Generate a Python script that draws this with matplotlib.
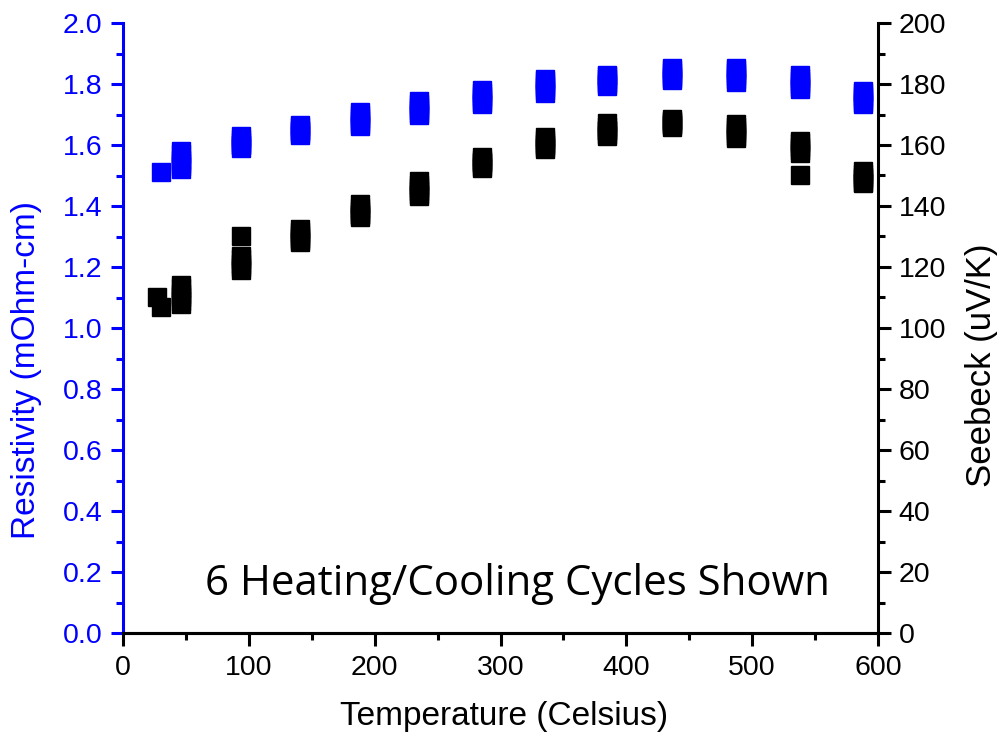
import numpy as np
import matplotlib
matplotlib.use("Agg")
import matplotlib.pyplot as plt

nan = np.nan
# Shared temperature grid (Celsius)
temperature = [27, 30, 46, 94, 141, 188, 235, 285, 335, 385, 436, 487, 538, 588]

# Resistivity (mOhm-cm), one list per heating/cooling cycle
resistivity_c1 = [nan, 1.51, 1.58, 1.63, 1.666, 1.708, 1.744, 1.78, 1.816, 1.83, 1.852, 1.852, 1.83, 1.777]
resistivity_c2 = [nan, nan, 1.57, 1.62, 1.66, 1.70, 1.735, 1.77, 1.81, 1.825, 1.845, 1.845, 1.82, 1.77]
resistivity_c3 = [nan, nan, 1.55, 1.61, 1.65, 1.69, 1.725, 1.76, 1.80, 1.815, 1.835, 1.835, 1.81, 1.76]
resistivity_c4 = [nan, nan, 1.54, 1.60, 1.645, 1.68, 1.715, 1.75, 1.79, 1.805, 1.825, 1.825, 1.80, 1.75]
resistivity_c5 = [nan, nan, 1.53, 1.60, 1.64, 1.67, 1.705, 1.74, 1.78, 1.80, 1.82, 1.815, 1.79, 1.74]
resistivity_c6 = [nan, nan, 1.52, 1.59, 1.633, 1.662, 1.70, 1.734, 1.77, 1.793, 1.813, 1.807, 1.784, 1.734]

# Seebeck coefficient (uV/K), one list per cycle
seebeck_c1 = [110, 107, 114, 130, 132.5, 140.7, 148.2, 156, 162.6, 167.2, 168.5, 167, 161.3, 151.5]
seebeck_c2 = [nan, nan, 113, 123.5, 131.5, 139.5, 147, 155, 161.5, 166, 168, 166, 160.5, 150.5]
seebeck_c3 = [nan, nan, 111, 122.5, 130.5, 138.5, 146, 154.5, 160.5, 165, 167.5, 165, 159.5, 149.5]
seebeck_c4 = [nan, nan, 110, 121, 129.5, 137.5, 145, 154, 160, 164.5, 167, 164, 158.5, 149]
seebeck_c5 = [nan, nan, 109, 120, 129, 137, 144, 153, 159.5, 163.5, 166.5, 163, 157.4, 148]
seebeck_c6 = [nan, nan, 108, 119, 128.2, 136.4, 143.3, 152.5, 158.7, 163, 166, 162.3, 150.2, 147.5]

resistivity_cycles = [resistivity_c1, resistivity_c2, resistivity_c3,
                      resistivity_c4, resistivity_c5, resistivity_c6]
seebeck_cycles = [seebeck_c1, seebeck_c2, seebeck_c3,
                  seebeck_c4, seebeck_c5, seebeck_c6]

x_ticks = [0, 100, 200, 300, 400, 500, 600]
left_ticks = [0.0, 0.2, 0.4, 0.6, 0.8, 1.0, 1.2, 1.4, 1.6, 1.8, 2.0]
right_ticks = [0, 20, 40, 60, 80, 100, 120, 140, 160, 180, 200]

BLUE = "#0000ff"
plt.rcParams['font.family'] = ['Liberation Sans', 'DejaVu Sans']

fig = plt.figure(figsize=(9.99, 7.40), dpi=100)
ax = fig.add_axes([123/999, 1-633/740, (878-123)/999, (633-23)/740])
ax2 = ax.twinx()

for r in resistivity_cycles:
    ax.plot(temperature, r, linestyle='none', marker='s', markersize=12.3,
            color=BLUE, markeredgecolor=BLUE, clip_on=False)
for s in seebeck_cycles:
    ax2.plot(temperature, s, linestyle='none', marker='s', markersize=12.3,
             color='black', markeredgecolor='black', clip_on=False)

ax.set_xlim(0, 600)
ax.set_ylim(0, 2.0)
ax2.set_ylim(0, 200)

ax.set_xticks(x_ticks)
ax.set_xticks(np.arange(0, 601, 50), minor=True)
ax.set_yticks(left_ticks)
ax.set_yticklabels([f"{v:.1f}" for v in left_ticks])
ax.set_yticks(np.arange(0, 2.001, 0.1), minor=True)
ax2.set_yticks(right_ticks)
ax2.set_yticks(np.arange(0, 201, 10), minor=True)

fs = 20.5
ax.tick_params(axis='x', which='major', direction='out', length=9, width=2.2,
               labelsize=fs, pad=7, colors='black')
ax.tick_params(axis='x', which='minor', direction='out', length=5, width=2.2)
ax.tick_params(axis='y', which='major', direction='out', length=9, width=2.2,
               labelsize=fs, pad=6, colors=BLUE)
ax.tick_params(axis='y', which='minor', direction='out', length=5, width=2.2, colors=BLUE)
ax2.tick_params(axis='y', which='major', direction='out', length=9, width=2.2,
                labelsize=fs, pad=6, colors='black')
ax2.tick_params(axis='y', which='minor', direction='out', length=5, width=2.2, colors='black')

for a in (ax, ax2):
    a.spines['top'].set_visible(False)
    a.spines['bottom'].set_linewidth(2.2)
    a.spines['bottom'].set_color('black')
ax.spines['left'].set_color(BLUE)
ax.spines['left'].set_linewidth(2.2)
ax.spines['right'].set_visible(False)
ax2.spines['left'].set_visible(False)
ax2.spines['right'].set_color('black')
ax2.spines['right'].set_linewidth(2.2)

fig.text(504/999, 1-717/740, "Temperature (Celsius)", fontsize=24,
         ha='center', va='center', color='black')
fig.text(27/999, 1-370/740, "Resistivity (mOhm-cm)", fontsize=24,
         ha='center', va='center', rotation=90, color=BLUE)
fig.text(982/999, 1-365/740, "Seebeck (uV/K)", fontsize=25,
         ha='center', va='center', rotation=90, color='black')

note = fig.text(205/999, 1-595/740, "6 Heating/Cooling Cycles Shown",
                fontsize=28, family=['Open Sans', 'DejaVu Sans'],
                ha='left', va='baseline', color='black')
# fit the note to its width in the reference (about 625 px)
fig.canvas.draw()
w = note.get_window_extent().width
note.set_fontsize(28 * 625 / w)

fig.savefig("out.png", dpi=100)
